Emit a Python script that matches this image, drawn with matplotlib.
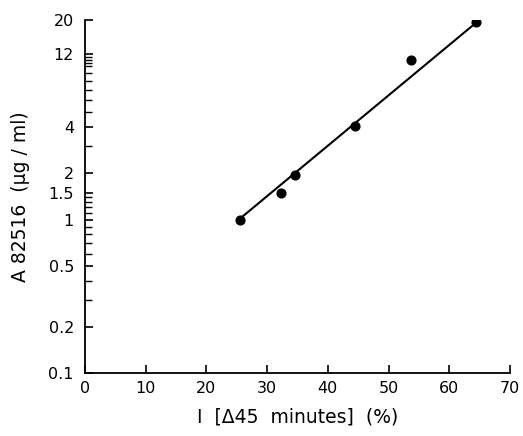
import matplotlib
matplotlib.use("Agg")
import matplotlib.pyplot as plt
from matplotlib.ticker import FixedLocator, NullFormatter

# data
x_pts = [25.6, 32.3, 34.6, 44.5, 53.7, 64.4]
y_pts = [1.0, 1.5, 1.96, 4.07, 10.9, 19.5]
line_x = [25.6, 64.2]
line_y = [1.02, 18.9]

x_ticks = [0, 10, 20, 30, 40, 50, 60, 70]
y_ticks = [0.1, 0.2, 0.5, 1, 1.5, 2, 4, 12, 20]
y_tick_labels = ["0.1", "0.2", "0.5", "1", "1.5", "2", "4", "12", "20"]
y_minor = [0.3, 0.4, 0.6, 0.7, 0.8, 0.9, 1.1, 1.2, 1.3, 1.4, 3, 5, 6, 7, 8, 9,
           10, 10.5, 11, 11.5]

fig = plt.figure(figsize=(5.23, 4.36), dpi=100)
ax = fig.add_axes([0.1625, 0.1445, 0.8125, 0.8095])

ax.plot(line_x, line_y, color="black", lw=1.5)
ax.plot(x_pts, y_pts, "o", color="black", ms=6.3)

ax.set_yscale("log")
ax.set_xlim(0, 70)
ax.set_ylim(0.1, 20)
ax.set_xticks(x_ticks)
ax.set_xticklabels([str(t) for t in x_ticks])
ax.yaxis.set_major_locator(FixedLocator(y_ticks))
ax.set_yticklabels(y_tick_labels)
ax.yaxis.set_minor_locator(FixedLocator(y_minor))
ax.yaxis.set_minor_formatter(NullFormatter())

for s in ["top", "right"]:
    ax.spines[s].set_visible(False)
for s in ["left", "bottom"]:
    ax.spines[s].set_linewidth(1.3)

ax.tick_params(axis="both", which="major", direction="in", length=6, width=1.2,
               labelsize=11.5)
ax.tick_params(axis="y", which="minor", direction="in", length=5, width=1.0)
ax.tick_params(axis="y", which="major", pad=8)
ax.tick_params(axis="x", which="major", pad=6)

ax.set_xlabel("I  [Δ45  minutes]  (%)", fontsize=13.5, labelpad=8)
ax.set_ylabel("A 82516  (μg / ml)", fontsize=13.5, labelpad=13)

fig.savefig("out.png", dpi=100)
